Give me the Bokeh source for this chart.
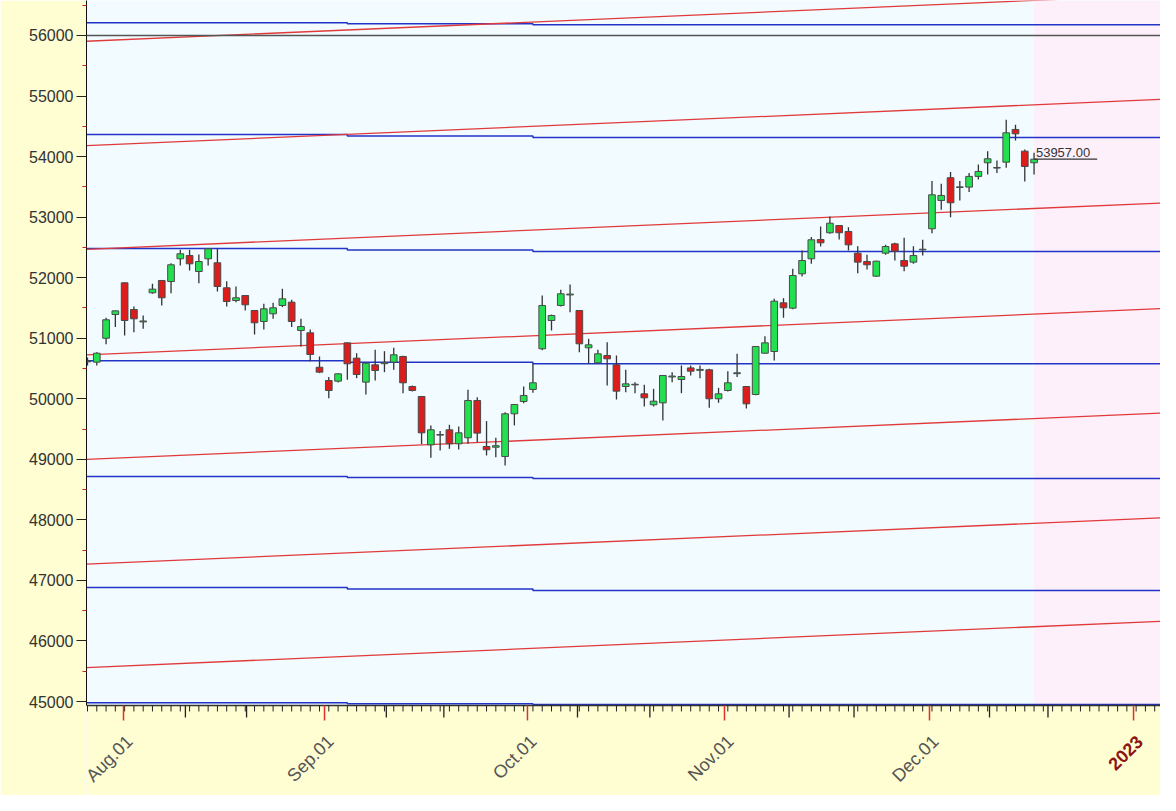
import numpy as np
from math import pi
from bokeh.plotting import figure, ColumnDataSource
from bokeh.models import FixedTicker, Span, BoxAnnotation, Label, Range1d
from bokeh.core.properties import value
from bokeh.embed import file_html
from bokeh.resources import INLINE

# ---- candle data (one per trading day) ----
opens = [50610, 50605, 51000, 51392, 51915, 51475, 51270, 51751, 51954, 51937,
         52312, 52367, 52102, 52312, 52246, 51833, 51623, 51706, 51458, 51277,
         51404, 51541, 51596, 51128, 51090, 50521, 50302, 50291, 50924, 50671,
         50275, 50561, 50580, 50605, 50699, 50203, 50038, 49240, 49400, 49488,
         49257, 49356, 49972, 49212, 49200, 49047, 49752, 49955, 50154, 50826,
         51293, 51541, 51715, 51458, 50842, 50594, 50715, 50561, 50203, 50230,
         50082, 49901, 49933, 50360, 50319, 50510, 50470, 50479, 50000, 50137,
         50415, 50203, 50071, 50753, 50781, 51585, 51497, 52064, 52312, 52631,
         52742, 52862, 52763, 52405, 52267, 52025, 52405, 52559, 52284, 52257,
         52460, 52808, 53275, 53651, 53490, 53496, 53673, 53898, 53810, 53908,
         54448, 54090, 53898]
highs = [50680, 50770, 51340, 51460, 51920, 51524, 51376, 51900, 51960, 52240,
         52461, 52461, 52383, 52490, 52477, 51943, 51855, 51710, 51460, 51569,
         51585, 51817, 51635, 51321, 51145, 50698, 50358, 50420, 50930, 50753,
         50600, 50809, 50786, 50842, 50710, 50220, 50040, 49560, 49466, 49571,
         49543, 50148, 50027, 49631, 49356, 49779, 49910, 50203, 50578, 51706,
         51390, 51800, 51888, 51460, 50990, 50809, 50935, 50715, 50479, 50275,
         50231, 50165, 50390, 50440, 50550, 50550, 50550, 50495, 50181, 50456,
         50743, 50210, 50870, 51034, 51651, 51662, 52147, 52449, 52670, 52846,
         53011, 52870, 52835, 52521, 52378, 52280, 52543, 52576, 52659, 52521,
         52626, 53595, 53551, 53744, 53595, 53727, 53871, 54090, 53937, 54608,
         54526, 54117, 54063]
lows = [50550, 50550, 50900, 51185, 51045, 51100, 51156, 51734, 51540, 51745,
        52201, 52119, 51910, 52201, 51772, 51524, 51596, 51458, 51062, 51145,
        51321, 51514, 51185, 50864, 50620, 50424, 50010, 50270, 50313, 50340,
        50071, 50302, 50440, 50479, 50093, 50120, 49251, 49026, 49147, 49174,
        49163, 49257, 49284, 49064, 49036, 48898, 49560, 49928, 50099, 50800,
        51128, 51524, 51430, 50770, 50578, 50578, 50220, 49988, 50110, 50093,
        49873, 49873, 49642, 50275, 50093, 50385, 50341, 49851, 49934, 50121,
        50358, 49840, 50060, 50743, 50632, 51338, 51480, 52019, 52230, 52515,
        52725, 52631, 52449, 52075, 52135, 52015, 52378, 52284, 52108, 52230,
        52367, 52736, 53121, 53000, 53275, 53414, 53623, 53704, 53728, 53815,
        54266, 53589, 53704]
closes = [50625, 50753, 51305, 51452, 51293, 51321, 51285, 51811, 51668, 52213,
          52395, 52229, 52267, 52477, 51854, 51607, 51668, 51552, 51255, 51486,
          51503, 51651, 51277, 51194, 50732, 50440, 50137, 50412, 50578, 50401,
          50588, 50467, 50600, 50727, 50264, 50137, 49438, 49488, 49410, 49257,
          49438, 49972, 49433, 49158, 49225, 49752, 49906, 50055, 50264, 51541,
          51376, 51734, 51730, 50908, 50891, 50743, 50660, 50126, 50247, 50240,
          50016, 49961, 50385, 50375, 50368, 50456, 50485, 50000, 50082, 50264,
          50430, 49917, 50864, 50924, 51612, 51503, 52036, 52284, 52626, 52576,
          52900, 52742, 52543, 52257, 52213, 52273, 52515, 52438, 52190, 52367,
          52470, 53369, 53358, 53237, 53500, 53673, 53755, 53964, 53820, 54393,
          54376, 53837, 53957]

# ---- horizontal (blue) levels: value at left, middle, right ----
blue_left = [56210, 54365, 52482, 50630, 48717, 46883, 44980]
blue_mid = [56195, 54340, 52457, 50605, 48700, 46858, 44965]
blue_right = [56177, 54315, 52432, 50580, 48683, 46834, 44950]
blue_steps = [28, 48]

# ---- rising (red) channel lines: value at first bar and slope per bar ----
red_start = [55906, 54182, 52470, 50725, 49000, 47270, 45562]
red_slope = 6.6

# ---- axis ticks (positions in trading-bar units) ----
tick_pos = [3.88, 25.54, 47.41, 68.64, 90.73, 112.72]
tick_labels = ["Aug.01", "Sep.01", "Oct.01", "Nov.01", "Dec.01", "2023"]
week_ticks = [10.55, 17.14, 32.2, 38.4, 52.8, 60.6, 75.6, 82.6, 97.2, 103.5]
y_ticks = list(range(45000, 57000, 1000))
y_minor = list(range(45500, 57000, 1000))
ref_level = 56000
axis_floor = 44935  # value at the bottom edge of the price pane

o = np.array(opens, float)
h = np.array(highs, float)
l = np.array(lows, float)
c = np.array(closes, float)
idx = np.arange(len(o))
inc = c >= o
dec = ~inc

W, H = 1160, 795
LEFT = 86
x0, x1 = -0.108, 115.625
y1 = 56578
y0 = 43448
px_x = (W - LEFT) / (x1 - x0)      # pixels per bar
vy = (y1 - y0) / H                 # value per pixel

p = figure(width=W, height=H, output_backend="svg", toolbar_location=None,
           x_range=Range1d(x0, x1), y_range=Range1d(y0, y1),
           min_border_left=LEFT, min_border_right=0, min_border_top=0,
           min_border_bottom=0)
p.background_fill_color = "#F2FBFF"
p.border_fill_color = "#FFFDD2"
p.outline_line_color = None
p.xgrid.visible = False
p.ygrid.visible = False
p.xaxis.visible = False

# axis strip below the price pane, and future shaded region
p.add_layout(BoxAnnotation(top=axis_floor, fill_color="#FFFDD2", fill_alpha=1.0,
                           line_color=None, level="underlay"))
p.add_layout(BoxAnnotation(left=float(idx[-1]), bottom=axis_floor, fill_color="#FDF0FB",
                           fill_alpha=1.0, line_color=None, level="underlay"))

# blue levels (stepped)
for a, m, b in zip(blue_left, blue_mid, blue_right):
    xs = [x0, blue_steps[0], blue_steps[1], x1]
    ys = [a, m, b, b]
    p.step(xs, ys, mode="after", line_color="#2234C8", line_width=1.5)

# red rising lines
for s in red_start:
    p.line([x0, x1], [s + red_slope * x0, s + red_slope * x1],
           line_color="#E03A3A", line_width=1.3)

p.add_layout(Span(location=ref_level, dimension="width", line_color="#555555",
                  line_width=1.5))

# candles
p.segment(idx, h, idx, l, line_color="#333333", line_width=1.3)
p.vbar(idx[inc], 0.72, o[inc], c[inc], fill_color="#22E050", line_color="#4A4A4A",
       line_width=1)
p.vbar(idx[dec], 0.72, c[dec], o[dec], fill_color="#DD1C1C", line_color="#4A4A4A",
       line_width=1)

# last price marker
last = float(idx[-1])
p.segment([last], [c[-1]], [last + 6.8], [c[-1]], line_color="#333333", line_width=1.2)
p.add_layout(Label(x=last + 0.2, y=c[-1], text=f"{c[-1]:.2f}", y_offset=2,
                   text_baseline="bottom", text_font="Liberation Sans",
                   text_font_size="13px", text_color="#333333"))

# ---- time axis (drawn on the bar scale) ----
p.segment([x0], [axis_floor], [x1], [axis_floor], line_color="#333333", line_width=1.5)
minor_x = list(range(0, int(x1) + 1))
p.segment(minor_x, [axis_floor] * len(minor_x), minor_x,
          [axis_floor - 6 * vy] * len(minor_x), line_color="#222222", line_width=1)
p.segment(week_ticks, [axis_floor] * len(week_ticks), week_ticks,
          [axis_floor - 12 * vy] * len(week_ticks), line_color="#222222", line_width=1.3)
p.segment(tick_pos, [axis_floor] * len(tick_pos), tick_pos,
          [axis_floor - 15 * vy] * len(tick_pos), line_color="#E03030", line_width=1.5)

is_year = [lab.isdigit() for lab in tick_labels]
lab_src = ColumnDataSource(dict(
    x=[t + 6 / px_x for t in tick_pos],
    y=[axis_floor - 33 * vy] * len(tick_pos),
    text=tick_labels,
    color=["#8B1414" if yr else "#555555" for yr in is_year],
    style=["bold" if yr else "normal" for yr in is_year],
    size=["18px" if yr else "18px" for yr in is_year],
))
p.text(x="x", y="y", text="text", source=lab_src, angle=pi / 4,
       text_align="right", text_baseline="alphabetic",
       text_font=value("Liberation Sans"), text_font_size="size",
       text_font_style="style", text_color="color")

# y axis
ya = p.yaxis[0]
ya.bounds = (axis_floor, y1)
ya.ticker = FixedTicker(ticks=y_ticks, minor_ticks=y_minor)
ya.major_tick_in = 0
ya.major_tick_out = 10
ya.minor_tick_in = 0
ya.minor_tick_out = 4
ya.major_tick_line_color = "#222222"
ya.minor_tick_line_color = "#CC2222"
ya.axis_line_color = "#111111"
ya.major_label_text_font = "Liberation Sans"
ya.major_label_text_font_size = "16px"
ya.major_label_text_color = "#333333"
ya.major_label_standoff = 3

open("out.html", "w").write(file_html(p, INLINE))
